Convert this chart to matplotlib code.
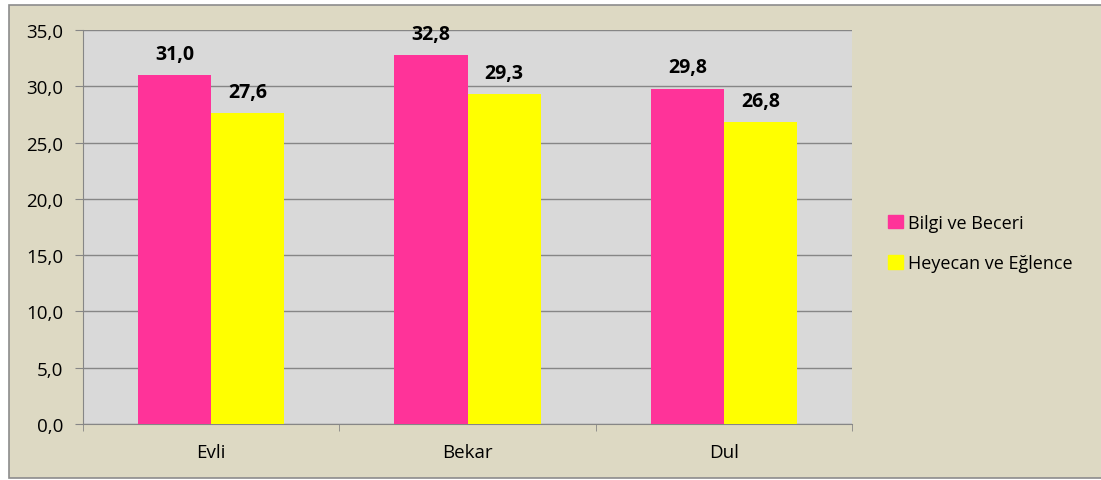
import numpy as np
import matplotlib
matplotlib.use("Agg")
import matplotlib.pyplot as plt
import matplotlib.patches as mpatches

categories = ["Evli", "Bekar", "Dul"]
bilgi = [31.0, 32.8, 29.8]
heyecan = [27.6, 29.3, 26.8]
series_names = ["Bilgi ve Beceri", "Heyecan ve Eğlence"]
yticks = [0, 5, 10, 15, 20, 25, 30, 35]

plt.rcParams['font.family'] = ['Open Sans', 'DejaVu Sans']

W, H = 1101, 481
fig = plt.figure(figsize=(W / 100, H / 100), dpi=100)
fig.patch.set_facecolor('white')

# chart frame (beige area with grey border)
frame = mpatches.Rectangle((9 / W, 1 - 479 / H), (W - 9) / W + 0.01, (479 - 6) / H,
                           transform=fig.transFigure, facecolor='#DDD9C3',
                           edgecolor='#8C8C8C', linewidth=1.2, zorder=-10)
fig.patches.append(frame)

ax = fig.add_axes([83 / W, 1 - 425 / H, (852 - 83) / W, (425 - 31) / H])
ax.set_facecolor('#D9D9D9')

x = np.arange(len(categories))
w = 0.285
b1 = ax.bar(x - w / 2, bilgi, w, color='#FF3399', label=series_names[0], zorder=3)
b2 = ax.bar(x + w / 2, heyecan, w, color='#FFFF00', label=series_names[1], zorder=3)

for bars, vals in [(b1, bilgi), (b2, heyecan)]:
    for r, v in zip(bars, vals):
        ax.text(r.get_x() + r.get_width() / 2, v + 1.0, f"{v:.1f}".replace('.', ','),
                ha='center', va='bottom', fontsize=14, fontweight='bold', color='black')

ax.set_xlim(-0.5, 2.5)
ax.set_ylim(0, 35)
ax.set_yticks(yticks)
ax.set_yticklabels([f"{t:.1f}".replace('.', ',') for t in yticks], fontsize=13.5)
ax.yaxis.grid(True, color='#868686', linewidth=1)
ax.set_axisbelow(True)

ax.set_xticks(x)
ax.set_xticklabels(categories, fontsize=13.5)
ax.tick_params(axis='x', length=0, pad=14)
ax.set_xticks([-0.5, 0.5, 1.5, 2.5], minor=True)
ax.tick_params(axis='x', which='minor', length=5, color='#868686')
ax.tick_params(axis='y', length=6, color='#868686', pad=8)

for s in ['top', 'right']:
    ax.spines[s].set_visible(False)
ax.spines['left'].set_color('#868686')
ax.spines['bottom'].set_color('#868686')

handles = [mpatches.Patch(color='#FF3399'), mpatches.Patch(color='#FFFF00')]
fig.legend(handles, series_names, loc='center left', bbox_to_anchor=(872 / W, 1 - 244 / H),
           frameon=False, fontsize=13, handlelength=0.8, handleheight=0.8,
           handletextpad=0.3, labelspacing=1.25)

fig.savefig("out.png", dpi=100, facecolor=fig.get_facecolor())
